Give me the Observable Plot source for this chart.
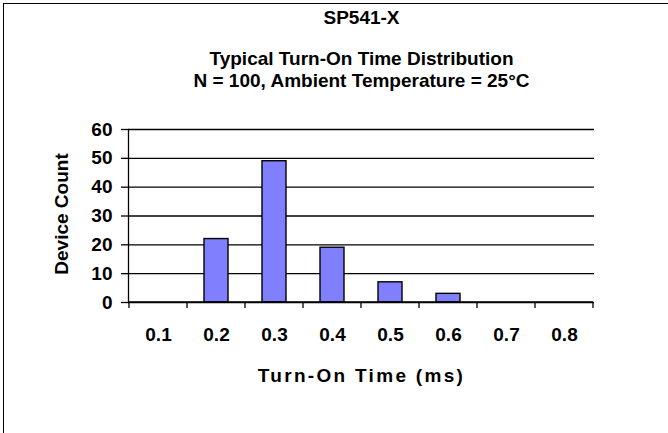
<!DOCTYPE html>
<html>
<head>
<meta charset="utf-8">
<script src="https://cdn.jsdelivr.net/npm/d3@7"></script>
<script src="https://cdn.jsdelivr.net/npm/@observablehq/plot@0.6"></script>
<style>
  html, body { margin: 0; padding: 0; background: #fff; }
  #wrap { position: relative; width: 668px; height: 433px; overflow: hidden; }
  #border { position: absolute; left: 3px; top: 3px; right: -10px; bottom: -10px;
            border-top: 1.5px solid #000; border-left: 1.5px solid #000; pointer-events: none; }
  svg { font-family: "Liberation Sans", Arial, sans-serif; }
</style>
</head>
<body>
<div id="wrap"><div id="border"></div></div>
<script>
const categories = ["0.1", "0.2", "0.3", "0.4", "0.5", "0.6", "0.7", "0.8"];
const counts = [0, 22, 49, 19, 7, 3, 0, 0];
const yTicks = [0, 10, 20, 30, 40, 50, 60];
const titleLines = ["SP541-X", "Typical Turn-On Time Distribution", "N = 100, Ambient Temperature = 25°C"];
const xTitle = "Turn-On Time (ms)";
const yTitle = "Device Count";

const data = categories.map((c, i) => ({time: c, count: counts[i]}));
const font = {fontFamily: "Liberation Sans, Arial, sans-serif", fontWeight: "bold", fontSize: 19, fill: "#000"};
const label = {textAnchor: "middle", lineAnchor: "middle", text: d => d, ...font};

const plot = Plot.plot({
  width: 668,
  height: 433,
  marginLeft: 128,
  marginRight: 74,
  marginTop: 129,
  marginBottom: 131,
  style: {fontFamily: "Liberation Sans, Arial, sans-serif", overflow: "visible", background: "transparent"},
  x: {type: "band", domain: categories, paddingInner: 0.588, paddingOuter: 0.294},
  y: {type: "linear", domain: [0, 60]},
  marks: [
    Plot.ruleY(yTicks, {stroke: "#000", strokeWidth: 1.3}),
    Plot.frame({anchor: "left", stroke: "#000", strokeWidth: 1.3}),
    Plot.barY(data.filter(d => d.count > 0), {x: "time", y: "count", fill: "#8080ff", stroke: "#000", strokeWidth: 1.4}),
    Plot.axisY({ticks: yTicks, tickSize: 7, tickPadding: 9, tickFormat: d => String(d), stroke: "#000", strokeWidth: 1.3, label: null, ...font}),
    Plot.axisX({tickSize: 0, tickPadding: 25, label: null, ...font}),
    Plot.text([titleLines[0]], {frameAnchor: "top", dy: -112, ...label}),
    Plot.text([titleLines[1]], {frameAnchor: "top", dy: -71, ...label}),
    Plot.text([titleLines[2]], {frameAnchor: "top", dy: -49, ...label}),
    Plot.text([xTitle], {frameAnchor: "bottom", dy: 73, ...label}),
    Plot.text([yTitle], {frameAnchor: "left", dx: -67, dy: -2, rotate: -90, ...label})
  ]
});

// category boundary ticks below the x axis, from the plot's own band scale
const sx = plot.scale("x");
const sy = plot.scale("y");
const y0 = sy.apply(0);
const half = sx.step / 2;
const bounds = categories.map(c => sx.apply(c) + sx.bandwidth / 2 - half).concat([sx.apply(categories[categories.length - 1]) + sx.bandwidth / 2 + half]);
const svg = d3.select(plot);
svg.append("g")
  .attr("stroke", "#000").attr("stroke-width", 1.3)
  .selectAll("line").data(bounds).join("line")
  .attr("x1", d => d).attr("x2", d => d).attr("y1", y0).attr("y2", y0 + 6);
svg.append("line")
  .attr("x1", bounds[0]).attr("x2", bounds[bounds.length - 1])
  .attr("y1", y0).attr("y2", y0).attr("stroke", "#000").attr("stroke-width", 1.3);

// letter spacing of the x-axis title as in the reference
svg.selectAll("text").filter(function () { return this.textContent === xTitle; })
  .attr("letter-spacing", "2.3px");

document.getElementById("wrap").appendChild(plot);
</script>
</body>
</html>
